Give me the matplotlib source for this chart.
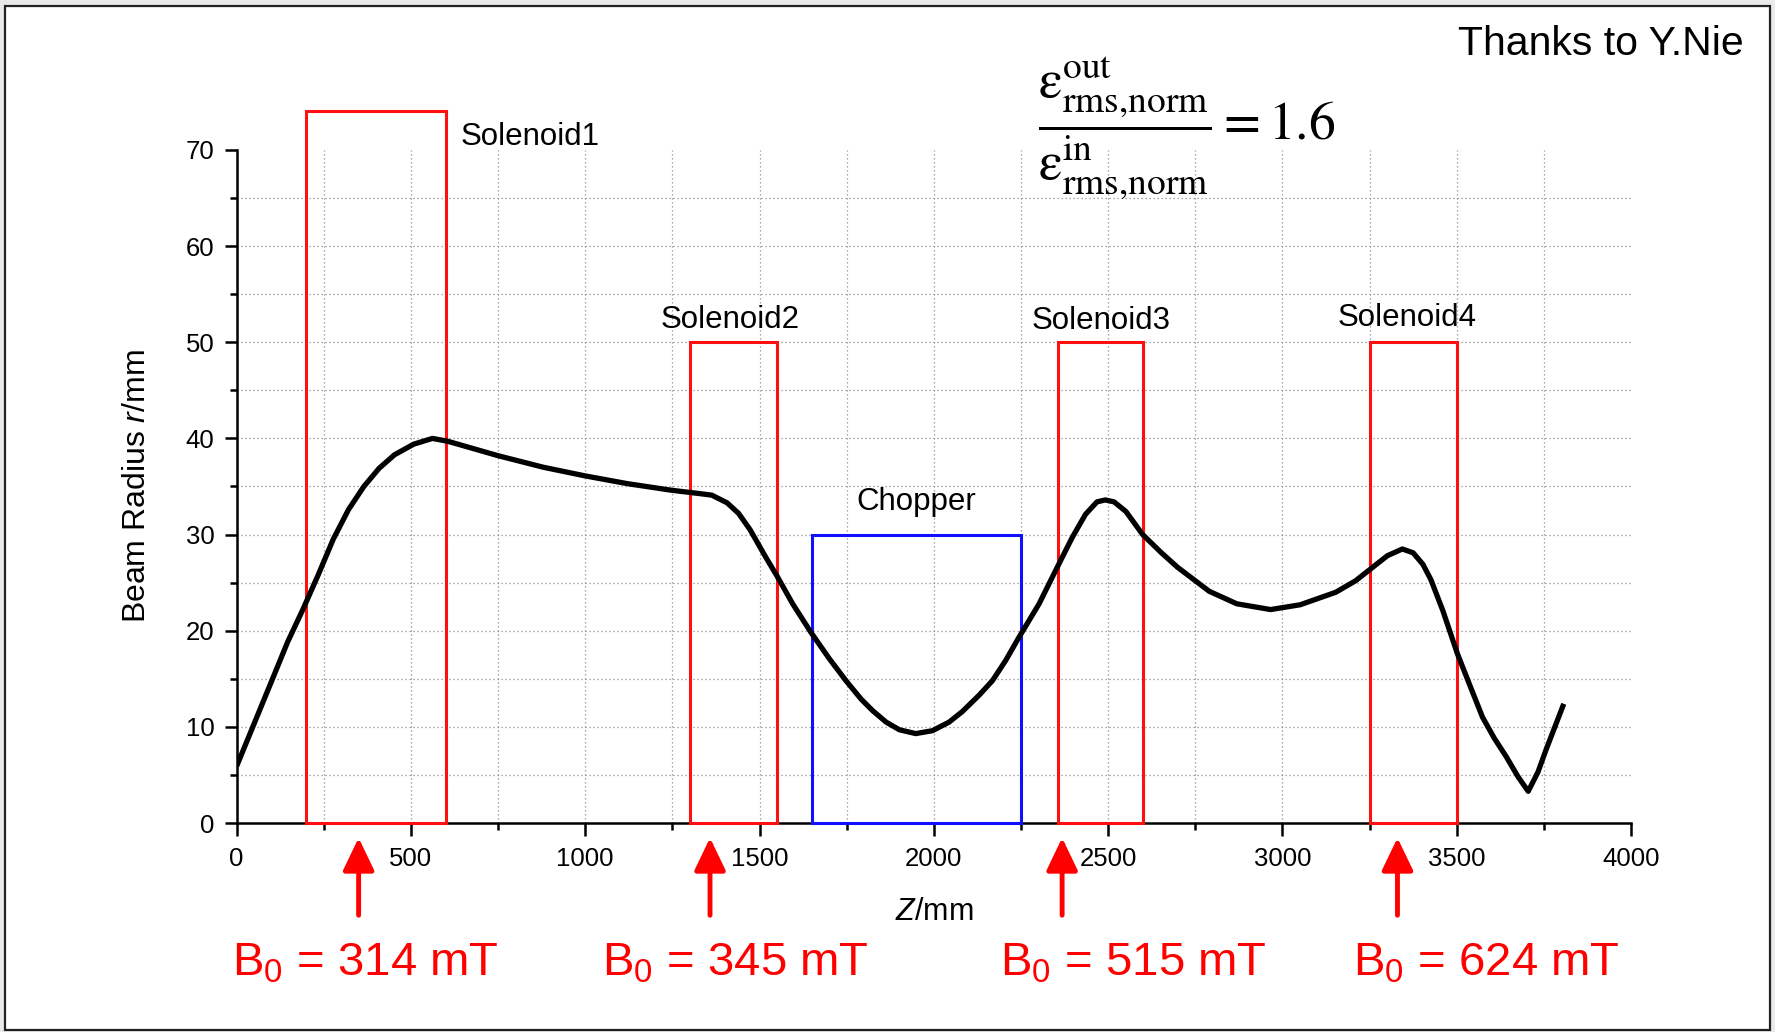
import numpy as np
import matplotlib.pyplot as plt
from matplotlib.patches import Rectangle
from matplotlib.ticker import MultipleLocator

plt.rcParams['font.family'] = ['Liberation Sans', 'DejaVu Sans']
plt.rcParams['mathtext.fontset'] = 'custom'
plt.rcParams['mathtext.rm'] = 'Liberation Sans'
plt.rcParams['mathtext.it'] = 'Liberation Sans:italic'

# beam envelope along the line
z_mm = [0, 102, 146, 190, 234, 277, 321, 365, 409, 453, 508, 562, 606, 750, 880,
        1000, 1120, 1249, 1319, 1363, 1407, 1440, 1473, 1517, 1550, 1595, 1648, 1700,
        1748, 1791, 1824, 1863, 1901, 1948, 1996, 2044, 2082, 2130, 2168, 2206, 2244,
        2302, 2354, 2397, 2435, 2468, 2492, 2517, 2551, 2599, 2653, 2699, 2790, 2869,
        2966, 3051, 3153, 3210, 3252, 3301, 3344, 3375, 3403, 3426, 3460, 3502, 3540,
        3574, 3608, 3642, 3676, 3705, 3733, 3756, 3807]
r_mm = [5.9, 14.9, 18.8, 22.2, 25.8, 29.5, 32.6, 35.0, 36.9, 38.3, 39.4, 40.0, 39.7, 38.2, 37.0,
        36.1, 35.3, 34.6, 34.3, 34.1, 33.3, 32.2, 30.5, 27.7, 25.7, 22.8, 19.8, 17.1,
        14.8, 12.9, 11.7, 10.5, 9.7, 9.3, 9.6, 10.5, 11.6, 13.3, 14.8, 16.9, 19.3,
        22.8, 26.6, 29.7, 32.1, 33.4, 33.6, 33.4, 32.4, 30.0, 28.1, 26.6, 24.1, 22.8,
        22.2, 22.7, 24.0, 25.2, 26.4, 27.8, 28.5, 28.1, 26.9, 25.3, 22.1, 17.6, 14.1,
        11.0, 8.8, 6.9, 4.8, 3.3, 5.3, 7.6, 12.4]

# solenoids: start, end, drawn height
sol_names = ['Solenoid1', 'Solenoid2', 'Solenoid3', 'Solenoid4']
sol_start = [200, 1300, 2355, 3250]
sol_end = [600, 1550, 2600, 3500]
sol_height = [74, 50, 50, 50]
sol_label_x = [643, 1416, 2481, 3357]
sol_label_y = [71.3, 52.3, 52.2, 52.5]

chopper_start, chopper_end, chopper_height = 1650, 2250, 30

# field marks below the axis
b0_arrow_z = [350, 1358, 2368, 3330]
b0_label_z = [370, 1430, 2572, 3584]
b0_mT = [314, 345, 515, 624]

fig = plt.figure(figsize=(17.75, 10.32), dpi=100, facecolor='#e9e9e9')
fig.patches.append(Rectangle((0.003, 0.002), 0.994, 0.992, transform=fig.transFigure,
                             facecolor='white', edgecolor='#222222', lw=1.6, zorder=-10))

ax = fig.add_axes([0.1333, 0.2025, 0.7856, 0.6522])
ax.set_facecolor('none')
ax.set_xlim(0, 4000)
ax.set_ylim(0, 70)

# dotted grid on major and minor positions
grid_kw = dict(color='#8a8a8a', lw=0.9, linestyle=(0, (1, 2.2)), zorder=0)
ax.hlines(np.arange(5, 70, 5), 0, 4000, **grid_kw)
ax.vlines(np.arange(250, 4000, 250), 0, 70, **grid_kw)

for s, e, h in zip(sol_start, sol_end, sol_height):
    ax.add_patch(Rectangle((s, 0), e - s, h, fill=False, edgecolor='#ff1010', lw=2.2,
                           clip_on=False, zorder=3))
ax.add_patch(Rectangle((chopper_start, 0), chopper_end - chopper_start, chopper_height,
                       fill=False, edgecolor='#1010ff', lw=2.2, clip_on=False, zorder=3))

ax.plot(z_mm, r_mm, color='black', lw=3.8, solid_joinstyle='round',
        solid_capstyle='butt', zorder=4)

ax.text(sol_label_x[0], sol_label_y[0], sol_names[0], fontsize=22.5, ha='left', va='center')
for name, lx, ly in zip(sol_names[1:], sol_label_x[1:], sol_label_y[1:]):
    ax.text(lx, ly, name, fontsize=22.5, ha='center', va='center')
ax.text((chopper_start + chopper_end) / 2, 33.4, 'Chopper', fontsize=22.5,
        ha='center', va='center')

for az, lz, b in zip(b0_arrow_z, b0_label_z, b0_mT):
    ax.annotate('', xy=(az, -0.022), xytext=(az, -0.137),
                xycoords=('data', 'axes fraction'), textcoords=('data', 'axes fraction'),
                arrowprops=dict(arrowstyle='-|>,head_length=1.0,head_width=0.48',
                                mutation_scale=20, color='#ff0000', lw=3.5,
                                shrinkA=0, shrinkB=0))
    ax.text(lz, -0.227, r'B$_0$ = %d mT' % b, transform=ax.get_xaxis_transform(),
            fontsize=34, color='#ff0000', ha='center', va='baseline')

for side in ['top', 'right']:
    ax.spines[side].set_visible(False)
for side in ['left', 'bottom']:
    ax.spines[side].set_linewidth(1.8)

ax.xaxis.set_major_locator(MultipleLocator(500))
ax.xaxis.set_minor_locator(MultipleLocator(250))
ax.yaxis.set_major_locator(MultipleLocator(10))
ax.yaxis.set_minor_locator(MultipleLocator(5))
ax.tick_params(which='major', length=9, width=1.8, labelsize=18.5, direction='out')
ax.tick_params(which='minor', length=5, width=1.8, direction='out')
ax.tick_params(axis='x', pad=8)
ax.tick_params(axis='y', pad=7)

ax.set_xlabel(r'$\it{Z}$/mm', fontsize=22, labelpad=19)
ax.set_ylabel(r'Beam Radius $\it{r}$/mm', fontsize=23, labelpad=24)

fig.text(0.9825, 0.957, 'Thanks to Y.Nie', fontsize=29.5, ha='right', va='center')
fig.text(0.585, 0.876,
         r'$\dfrac{\mathrm{\varepsilon}^{\mathrm{out}}_{\mathrm{rms{,}norm}}}'
         r'{\mathrm{\varepsilon}^{\mathrm{in}}_{\mathrm{rms{,}norm}}}=1.6$',
         fontsize=38.5, math_fontfamily='stix', ha='left', va='center')

fig.savefig('out.png', dpi=100, facecolor=fig.get_facecolor())
